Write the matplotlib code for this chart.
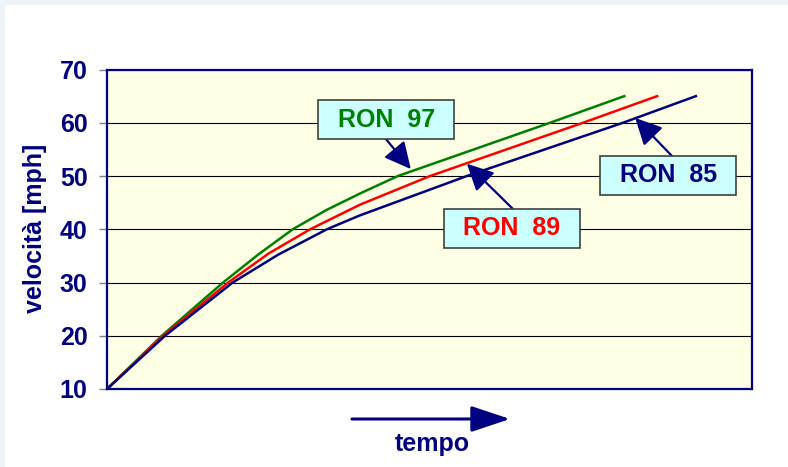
import matplotlib.pyplot as plt
from matplotlib.patches import Rectangle

# values (time is arbitrary units 0-100)
t_97 = [0, 8.5, 18.0, 23.5, 28.8, 34.0, 39.2, 45.1, 68.7, 80.2]
v_97 = [10, 20, 30, 35.3, 40, 43.6, 46.7, 50, 60, 65]
t_89 = [0, 8.7, 18.8, 25.0, 31.5, 39.2, 50.1, 73.8, 85.3]
v_89 = [10, 20, 30, 35.4, 40, 44.6, 50, 60, 65]
t_85 = [0, 9.0, 19.5, 26.5, 34.1, 39.2, 55.8, 80.0, 91.3]
v_85 = [10, 20, 30, 35.2, 40, 42.6, 50, 60, 65]
yticks = [10, 20, 30, 40, 50, 60, 70]

navy = '#000080'
plt.rcParams['font.family'] = ['Liberation Sans', 'DejaVu Sans']

fig = plt.figure(figsize=(7.88, 4.67), dpi=100, facecolor='#EEF3F7')
# white page with a thin tinted strip at left/top
fig.patches.append(Rectangle((5 / 788, 0), 1, 1 - 5 / 467, transform=fig.transFigure,
                             facecolor='white', edgecolor='none', zorder=-1))
ax = fig.add_axes([107 / 788, 1 - 389 / 467, 645 / 788, 319.5 / 467])
ax.set_facecolor('#FFFFE5')

ax.plot(t_97, v_97, color='#008000', lw=1.8, zorder=3)
ax.plot(t_89, v_89, color='#FF0000', lw=1.8, zorder=3)
ax.plot(t_85, v_85, color=navy, lw=1.8, zorder=3)

ax.set_xlim(0, 100)
ax.set_ylim(10, 70)
ax.set_yticks(yticks)
ax.set_xticks([])
ax.yaxis.grid(True, color='black', lw=0.8)
ax.set_axisbelow(True)
ax.tick_params(axis='y', direction='out', length=6, width=1, color='#808080', pad=8,
               labelsize=18, labelcolor=navy)
for lab in ax.get_yticklabels():
    lab.set_fontweight('bold')
for s in ax.spines.values():
    s.set_color(navy)
    s.set_linewidth(1.6)

fig.text(35 / 788, 1 - 228 / 467, 'velocità [mph]', rotation=90, ha='center', va='center',
         fontsize=18, fontweight='bold', color=navy)

# label boxes: (text, colour, box centre, arrow start, arrow tip)
labels = [
    ('RON  97', '#008000', (43.3, 60.6), (43.2, 57.0), (47.1, 51.3)),
    ('RON  89', '#FF0000', (62.8, 40.2), (62.9, 43.85), (55.8, 52.3)),
    ('RON  85', navy, (87.0, 50.1), (87.6, 53.75), (81.9, 60.9)),
]
bw, bh = 21.1, 7.3
for txt, col, (cx, cy), start, tip in labels:
    ax.add_patch(Rectangle((cx - bw / 2, cy - bh / 2), bw, bh, facecolor='#CCFFFF',
                           edgecolor='#404040', lw=1.2, zorder=5))
    ax.text(cx, cy, txt, ha='center', va='center', fontsize=18, fontweight='bold',
            color=col, zorder=6)
    ax.annotate('', xy=tip, xytext=start,
                arrowprops=dict(arrowstyle='-|>,head_length=0.9,head_width=0.45',
                                mutation_scale=18, color=navy, lw=1.6,
                                shrinkA=0, shrinkB=0), zorder=4)

# time arrow below the plot
ax.annotate('', xy=(510 / 788, 1 - 419 / 467), xytext=(352 / 788, 1 - 419 / 467),
            xycoords='figure fraction', textcoords='figure fraction',
            arrowprops=dict(arrowstyle='-|>,head_length=2.4,head_width=0.8',
                            mutation_scale=10, color=navy, lw=2.2,
                            shrinkA=0, shrinkB=0), annotation_clip=False)
fig.text(432 / 788, 1 - 444 / 467, 'tempo', ha='center', va='center',
         fontsize=18, fontweight='bold', color=navy)

fig.savefig('out.png', dpi=100, facecolor=fig.get_facecolor())
